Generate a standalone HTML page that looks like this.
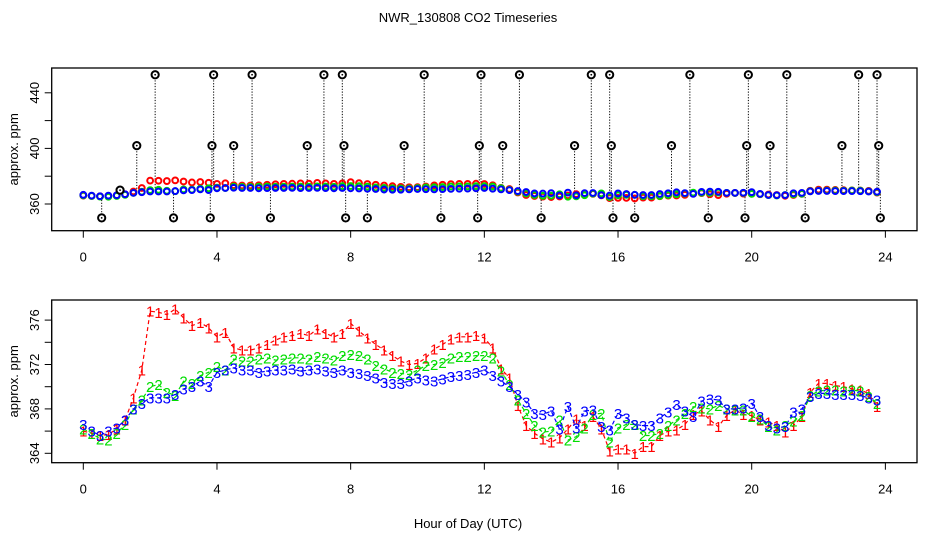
<!DOCTYPE html>
<html><head><meta charset="utf-8"><style>
body{margin:0;background:#fff;}
svg{display:block;font-family:"Liberation Sans",sans-serif;}
</style></head><body>
<svg id="c" width="936" height="540" viewBox="0 0 936 540">
<text x="468" y="22" text-anchor="middle" font-size="13">NWR_130808  CO2 Timeseries</text>
<text x="468" y="528" text-anchor="middle" font-size="13">Hour of Day (UTC)</text>
</svg>
<script>
const hours = [];
for (let i = 0; i < 96; i++) hours.push(i * 0.25);
const series1 = [366.0,365.8,365.6,365.7,366.2,367.0,369.0,371.5,376.8,376.7,376.5,377.0,376.2,375.5,375.8,375.3,374.5,374.9,373.5,373.3,373.3,373.5,373.8,374.2,374.5,374.6,374.8,374.6,375.2,374.8,374.5,374.8,375.7,375.0,374.4,373.8,373.3,372.8,372.3,372.0,372.1,372.6,373.4,373.8,374.3,374.5,374.5,374.6,374.4,373.5,371.6,370.8,368.3,366.5,365.8,365.3,365.0,365.4,366.2,367.1,366.5,367.3,366.2,364.2,364.4,364.4,364.0,364.6,364.6,365.6,366.0,366.1,366.6,367.5,367.8,367.0,366.4,367.4,367.9,367.5,367.4,367.0,366.8,366.5,365.9,366.5,367.3,369.5,370.3,370.3,370.1,370.0,369.8,369.7,369.4,368.2];
const series2 = [366.2,365.8,365.3,365.2,365.8,366.6,368.0,368.8,370.0,370.2,369.5,369.2,370.5,370.3,371.0,371.3,371.8,371.5,372.5,372.3,372.3,372.5,372.6,372.4,372.5,372.6,372.6,372.5,372.7,372.6,372.4,372.8,372.9,372.8,372.5,371.9,371.6,371.3,371.2,371.1,371.5,371.9,372.0,372.2,372.6,372.7,372.7,372.8,372.8,372.6,371.4,370.2,368.8,367.6,366.5,365.9,366.0,367.0,365.2,365.5,366.3,367.5,367.6,365.0,366.3,366.6,366.6,365.6,365.6,365.8,366.5,367.0,367.6,368.2,368.1,368.0,368.3,368.0,367.9,367.9,367.3,367.1,366.4,366.1,366.5,366.9,367.4,369.2,369.6,369.7,369.7,369.6,369.7,369.6,369.1,368.5];
const series3 = [366.6,366.0,365.6,366.0,366.3,367.0,368.0,368.5,369.0,369.0,369.0,369.3,369.8,370.0,370.5,370.0,371.3,371.5,371.7,371.5,371.5,371.3,371.4,371.5,371.5,371.6,371.4,371.5,371.6,371.4,371.3,371.5,371.3,371.2,371.0,370.8,370.4,370.3,370.3,370.5,370.8,370.6,370.5,370.7,370.9,371.0,371.1,371.3,371.5,371.0,370.5,370.0,369.3,368.6,367.6,367.5,367.8,366.2,368.2,366.3,367.8,367.9,366.4,366.1,367.6,367.2,366.6,366.5,366.5,367.2,367.7,368.4,367.8,367.3,368.7,368.9,368.8,368.0,368.0,368.1,368.5,367.3,366.5,366.3,366.4,367.7,368.0,369.1,369.4,369.4,369.3,369.3,369.3,369.2,369.0,368.8];
const outlierHours = [0.55,1.1,1.6,2.15,2.7,3.8,3.85,3.9,4.5,5.05,5.6,6.7,7.2,7.75,7.8,7.85,8.5,9.6,10.2,10.7,11.8,11.85,11.9,12.55,13.05,13.7,14.7,15.2,15.75,15.8,15.85,16.5,17.6,18.15,18.7,19.8,19.85,19.9,20.55,21.05,21.6,22.7,23.2,23.75,23.8,23.85];
const outlierValues = [350,370,402,453,350,350,402,453,402,453,350,402,453,453,402,350,350,402,453,350,350,402,453,402,453,350,402,453,453,402,350,350,402,453,350,350,402,453,402,453,350,402,453,453,402,350];
const xTicks = [0,4,8,12,16,20,24];
const topYTicks = [360,380,400,420,440];
const topYLabels = [360,400,440];
const botYTicks = [364,366,368,370,372,374,376];
const botYLabels = [364,368,372,376];

const NS = "http://www.w3.org/2000/svg";
const svg = document.getElementById('c');
const L = 51.7, R = 917;
const xs = h => 83.3 + h * 33.42;
const yTop = v => 204 - (v - 360) * 1.39;
const yBot = v => 453.3 - (v - 364) * 11.1;
const P1 = {t:68, b:230.7}, P2 = {t:300, b:462.7};
function mk(tag, attrs, parent){ const e=document.createElementNS(NS,tag); for(const k in attrs) e.setAttribute(k,attrs[k]); (parent||svg).appendChild(e); return e; }
const defs = mk('defs',{});
const cp1 = mk('clipPath',{id:'cp1'},defs); mk('rect',{x:L,y:P1.t,width:R-L,height:P1.b-P1.t},cp1);
const cp2 = mk('clipPath',{id:'cp2'},defs); mk('rect',{x:L,y:P2.t,width:R-L,height:P2.b-P2.t},cp2);
const colors = ['#ff0000','#00dd00','#0000ff'];
const all = [series1, series2, series3];

function axes(P, ytick, ylab, ysc, name){
  const box = mk('rect',{x:L,y:P.t,width:R-L,height:P.b-P.t,fill:'none',stroke:'#000','stroke-width':1.3});
  
  
  const ax = mk('g',{});
  
  
  mk('line',{x1:xs(0),x2:xs(24),y1:P.b,y2:P.b,stroke:'#000'},ax);
  xTicks.forEach(t=>{
    mk('line',{x1:xs(t),x2:xs(t),y1:P.b,y2:P.b+7,stroke:'#000'},ax);
    const tx = mk('text',{x:xs(t),y:P.b+31,'text-anchor':'middle','font-size':13},ax);
    tx.textContent = t;
    
    
  });
  const ay = mk('g',{});
  
  
  ytick.forEach(t=>{ mk('line',{x1:L,x2:L-7,y1:ysc(t),y2:ysc(t),stroke:'#000'},ay); });
  mk('line',{x1:L,x2:L,y1:ysc(ytick[0]),y2:ysc(ytick[ytick.length-1]),stroke:'#000'},ay);
  ylab.forEach(t=>{
    const y=ysc(t);
    const tx = mk('text',{x:0,y:0,transform:`translate(39,${y}) rotate(-90)`,'text-anchor':'middle','font-size':13},ay);
    tx.textContent = t;
    
    
  });
  const yt = mk('text',{x:0,y:0,transform:`translate(18,${(P.t+P.b)/2}) rotate(-90)`,'text-anchor':'middle','font-size':13});
  yt.textContent = 'approx. ppm';
  
  
}
axes(P1, topYTicks, topYLabels, yTop, 'top');
axes(P2, botYTicks, botYLabels, yBot, 'bottom');

// top panel
const g1 = mk('g',{'clip-path':'url(#cp1)'});


outlierHours.forEach((h,i)=>{
  const base = series3[Math.min(95,Math.round(h*4))];
  mk('line',{x1:xs(h),x2:xs(h),y1:yTop(outlierValues[i]),y2:yTop(base),stroke:'#000','stroke-dasharray':'1.2,1.6','stroke-width':1},g1);
});
all.forEach((s,k)=>{
  s.forEach((v,i)=>{
    const c = mk('circle',{cx:xs(hours[i]),cy:yTop(v),r:2.9,fill:'none',stroke:colors[k],'stroke-width':2},g1);
    
    
  });
});
outlierHours.forEach((h,i)=>{
  const c = mk('circle',{cx:xs(h),cy:yTop(outlierValues[i]),r:3.6,fill:'#fff',stroke:'#000','stroke-width':2},g1);
  
  
  mk('circle',{cx:xs(h),cy:yTop(outlierValues[i]),r:0.9,fill:'#000'},g1);
});

// bottom panel
const g2 = mk('g',{'clip-path':'url(#cp2)'});


all.forEach((s,k)=>{
  const d = s.map((v,i)=>(i?'L':'M')+xs(hours[i]).toFixed(1)+','+yBot(v).toFixed(1)).join('');
  const p = mk('path',{d:d,fill:'none',stroke:colors[k],'stroke-width':1.2,'stroke-dasharray':'4,3'},g2);
  
  
});
all.forEach((s,k)=>{
  s.forEach((v,i)=>{
    const t = mk('text',{x:xs(hours[i]),y:yBot(v)+5.5,'text-anchor':'middle','font-size':15,fill:colors[k]},g2);
    t.textContent = String(k+1);
    
    
  });
});
</script>
</body></html>
